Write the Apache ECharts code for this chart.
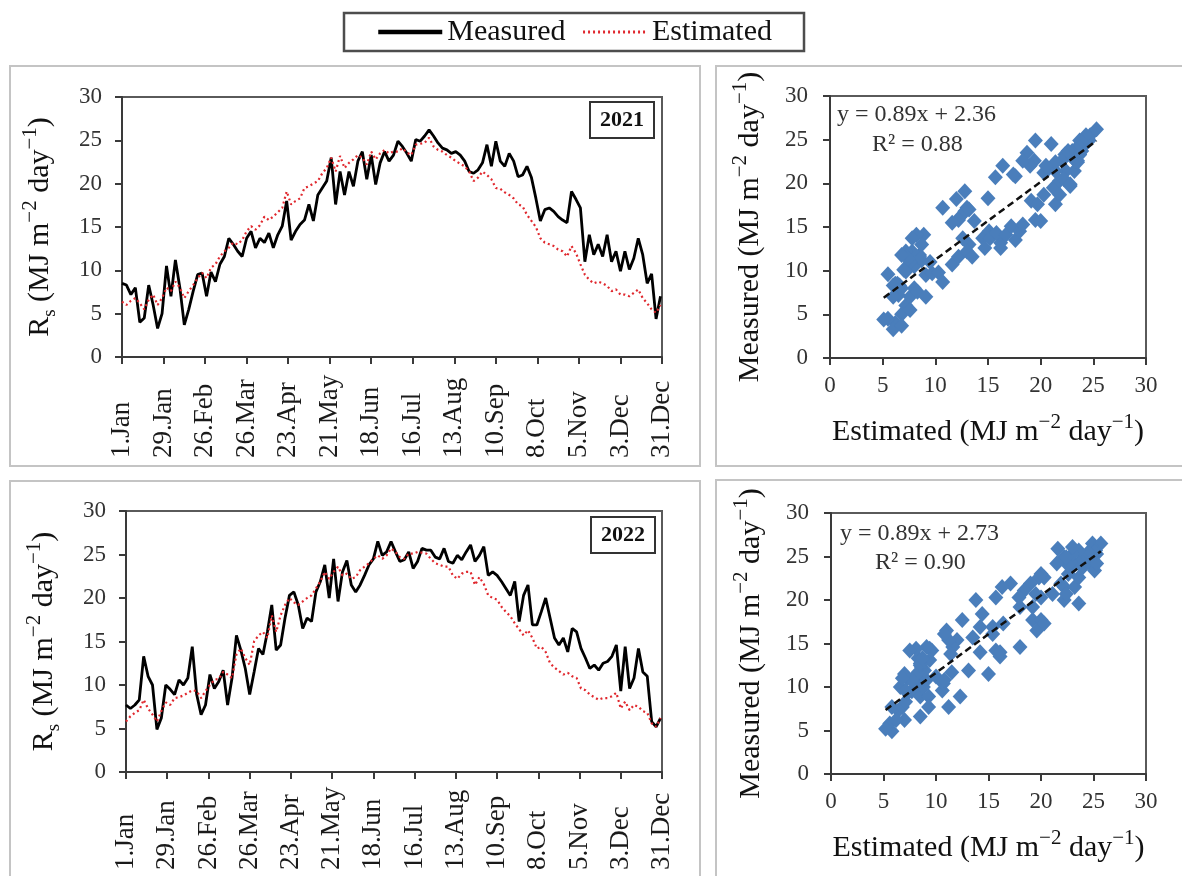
<!DOCTYPE html>
<html><head><meta charset="utf-8">
<script src="https://cdn.jsdelivr.net/npm/echarts@6/dist/echarts.min.js"></script>
<style>html,body{margin:0;padding:0;background:#fff}#c{width:1182px;height:876px}</style>
</head><body><div id="c"></div><script>
// ---------------- DATA ----------------
const TICK_LABELS = ['1.Jan','29.Jan','26.Feb','26.Mar','23.Apr','21.May','18.Jun','16.Jul','13.Aug','10.Sep','8.Oct','5.Nov','3.Dec','31.Dec'];
const DAY_STEP = 3; // one reading every 3 days, day 0 = 1 Jan
const MEASURED_2021 = [
 8.5, 8.3, 7.2, 8.0, 4.0, 4.5, 8.3, 6.0, 3.3, 5.0,
 10.5, 7.0, 11.2, 8.0, 3.7, 5.5, 7.6, 9.5, 9.7, 7.0,
 9.8, 8.7, 10.7, 11.6, 13.7, 13.0, 12.2, 11.6, 13.7, 14.5,
 12.6, 13.7, 13.2, 14.3, 12.6, 14.1, 15.1, 18.0, 13.5, 14.5,
 15.3, 15.8, 17.6, 15.7, 18.7, 19.5, 20.3, 23.0, 17.6, 21.4,
 18.7, 21.4, 19.7, 22.6, 23.7, 20.5, 23.3, 19.9, 22.4, 23.7,
 22.6, 23.3, 24.9, 24.3, 23.5, 22.6, 25.1, 24.9, 25.5, 26.2,
 25.5, 24.7, 24.1, 23.9, 23.5, 23.7, 23.3, 22.6, 21.4, 21.2,
 21.6, 22.4, 24.5, 22.0, 24.9, 22.6, 22.0, 23.5, 22.6, 20.8,
 21.0, 22.0, 20.7, 18.3, 15.7, 17.0, 17.2, 16.8, 16.2, 15.8,
 15.5, 19.1, 18.2, 17.2, 11.0, 14.1, 11.8, 13.0, 11.6, 14.1,
 11.0, 12.2, 9.9, 12.2, 10.1, 11.4, 13.7, 11.8, 8.5, 9.6,
 4.4, 7.0];
const ESTIMATED_2021 = [
 6.4, 6.0, 6.5, 6.8, 6.2, 5.5, 6.6, 7.2, 6.0, 6.8,
 8.0, 7.6, 8.7, 8.0, 6.8, 7.6, 8.3, 9.1, 9.7, 9.1,
 10.3, 10.7, 11.6, 12.2, 12.6, 13.2, 13.0, 13.5, 14.5, 15.1,
 14.7, 15.2, 16.2, 15.8, 16.2, 16.7, 17.2, 19.1, 17.6, 18.0,
 18.3, 19.5, 19.7, 20.0, 20.3, 21.2, 21.8, 23.0, 21.4, 23.2,
 21.8, 22.4, 22.8, 23.3, 23.0, 22.2, 23.7, 22.8, 23.5, 23.9,
 23.5, 23.7, 23.7, 24.1, 23.6, 23.3, 24.5, 24.6, 24.7, 25.3,
 24.3, 23.9, 23.7, 23.3, 23.0, 22.6, 22.3, 22.0, 21.4, 20.3,
 20.7, 21.4, 21.0, 20.5, 19.5, 19.4, 19.0, 18.7, 18.3, 17.6,
 17.4, 16.4, 15.7, 15.0, 13.7, 13.2, 13.0, 12.8, 12.4, 12.2,
 11.6, 12.8, 12.0, 10.7, 9.5, 8.9, 8.5, 8.7, 8.5, 8.2,
 7.6, 7.8, 7.2, 7.2, 7.0, 7.4, 7.8, 6.8, 6.2, 5.5,
 5.1, 6.0];
const MEASURED_2022 = [
 7.7, 7.3, 7.7, 8.3, 13.3, 11.0, 10.0, 4.9, 6.2, 10.0,
 9.5, 8.9, 10.6, 10.0, 10.8, 14.4, 8.9, 6.6, 7.7, 11.2,
 9.6, 10.4, 11.7, 7.7, 10.8, 15.7, 14.0, 11.9, 8.9, 11.5,
 14.2, 13.5, 16.1, 19.2, 14.0, 14.6, 17.7, 20.3, 20.7, 19.2,
 16.5, 17.7, 17.3, 20.7, 21.9, 23.8, 20.0, 24.5, 19.6, 23.0,
 24.3, 21.5, 20.7, 21.5, 22.6, 23.8, 24.5, 26.5, 24.9, 25.3,
 26.5, 25.3, 24.2, 24.4, 25.3, 23.4, 24.2, 25.7, 25.5, 25.5,
 24.7, 24.5, 25.7, 24.2, 24.0, 24.9, 24.4, 25.3, 26.1, 24.2,
 24.9, 25.9, 22.6, 23.0, 22.6, 21.9, 21.1, 20.3, 21.9, 17.3,
 20.3, 21.5, 16.9, 16.9, 18.4, 20.0, 17.7, 15.4, 14.6, 15.4,
 13.8, 16.5, 16.1, 14.2, 13.1, 11.9, 12.3, 11.7, 12.5, 12.7,
 13.3, 14.6, 9.3, 14.4, 9.6, 10.8, 14.2, 11.5, 11.0, 5.8,
 5.2, 6.2];
const ESTIMATED_2022 = [
 5.8, 6.4, 6.8, 7.1, 8.3, 7.3, 6.6, 5.8, 7.0, 8.0,
 7.7, 8.5, 8.6, 8.8, 9.1, 9.4, 9.3, 8.5, 9.3, 10.0,
 10.6, 10.7, 11.5, 11.2, 10.8, 13.5, 14.2, 13.1, 12.3, 15.0,
 15.7, 16.1, 15.4, 18.0, 16.1, 18.0, 19.2, 20.0, 19.5, 19.2,
 19.6, 20.0, 20.3, 21.1, 21.9, 23.0, 22.2, 23.0, 23.6, 22.6,
 22.8, 22.2, 22.4, 23.2, 23.6, 24.0, 24.5, 24.9, 24.5, 24.9,
 25.7, 25.3, 24.7, 24.5, 25.1, 25.1, 25.3, 25.2, 25.1, 24.5,
 24.0, 23.8, 23.6, 23.6, 22.6, 22.2, 22.8, 23.0, 23.0, 21.5,
 22.4, 21.6, 20.3, 20.0, 19.8, 19.0, 18.4, 17.9, 17.1, 16.4,
 15.7, 16.3, 15.4, 14.2, 14.4, 13.8, 12.5, 12.0, 11.6, 11.2,
 11.4, 11.0, 10.8, 9.6, 9.4, 8.9, 8.6, 8.3, 8.5, 8.5,
 8.7, 9.1, 7.3, 8.1, 7.1, 7.7, 7.5, 7.0, 6.8, 5.6,
 5.2, 6.2];
const FIT_2021 = [0.89, 2.36, '0.88']; // slope, intercept, R²
const FIT_2022 = [0.89, 2.73, '0.90'];
const YEARS = ['2021', '2022'];

// ---------------- CHART ----------------
const FONT = "'Liberation Serif','Times New Roman',serif";
const chart = echarts.init(document.getElementById('c'), null, {renderer: 'canvas'});

const toSeries = arr => arr.map((v, i) => [i * DAY_STEP, v]);
const pairs = (est, mea) => est.map((e, i) => [e, mea[i]]);
const fitLine = (est, fit) => {
  const lo = Math.min(...est), hi = Math.max(...est);
  return [[lo, fit[0] * lo + fit[1]], [hi, fit[0] * hi + fit[1]]];
};

const richUnits = {
  n: {fontFamily: FONT, fontSize: 30, color: '#111', lineHeight: 40},
  s: {fontFamily: FONT, fontSize: 19, color: '#111', lineHeight: 19, verticalAlign: 'bottom'},
  p: {fontFamily: FONT, fontSize: 21, color: '#111', lineHeight: 21, verticalAlign: 'top'}
};
const unitTail = '{n| (MJ m}{p|−2}{n| day}{p|−1}{n|)}';

const axisLineStyle = {show: true, lineStyle: {color: '#3a3a3a', width: 2}};
const tickStyle = {show: true, inside: false, length: 7, lineStyle: {color: '#3a3a3a', width: 2}};

function timeX(gridIndex, margin) {
  return {
    type: 'value', gridIndex, min: 0, max: 364, interval: 28,
    axisLine: axisLineStyle, axisTick: tickStyle, splitLine: {show: false},
    axisLabel: {
      rotate: 90, align: 'left', verticalAlign: 'middle', margin,
      fontFamily: FONT, fontSize: 27, color: '#1a1a1a',
      formatter: v => TICK_LABELS[Math.round(v / 28)]
    }
  };
}
function timeY(gridIndex) {
  return {
    type: 'value', gridIndex, min: 0, max: 30, interval: 5,
    axisLine: axisLineStyle, axisTick: tickStyle, splitLine: {show: false},
    axisLabel: {fontFamily: FONT, fontSize: 23, color: '#333', margin: 20},
    name: '{n|R}{s|s}' + unitTail, nameLocation: 'middle', nameRotate: 90, nameGap: 62,
    nameTextStyle: {rich: richUnits}
  };
}
function scX(gridIndex) {
  return {
    type: 'value', gridIndex, min: 0, max: 30, interval: 5,
    axisLine: axisLineStyle, axisTick: tickStyle, splitLine: {show: false},
    axisLabel: {fontFamily: FONT, fontSize: 23, color: '#333', margin: 16},
    name: '{n|Estimated}' + unitTail, nameLocation: 'middle', nameGap: 54,
    nameTextStyle: {rich: richUnits}
  };
}
function scY(gridIndex) {
  return {
    type: 'value', gridIndex, min: 0, max: 30, interval: 5,
    axisLine: axisLineStyle, axisTick: tickStyle, splitLine: {show: false},
    axisLabel: {fontFamily: FONT, fontSize: 23, color: '#333', margin: 22},
    name: '{n|Measured}' + unitTail, nameLocation: 'middle', nameRotate: 90, nameGap: 60,
    nameTextStyle: {rich: richUnits}
  };
}

const gridBox = {show: true, borderColor: '#5a5a5a', borderWidth: 2, containLabel: false};
const BLUE = '#4a7ebb';
const RED = '#e0282e';

function measuredSeries(data, idx) {
  return {name: 'Measured', type: 'line', xAxisIndex: idx, yAxisIndex: idx, data: toSeries(data),
    symbol: 'none', smooth: false, z: 3, lineStyle: {color: '#000', width: 2.8}, itemStyle: {color: '#000'}, animation: false};
}
function estimatedSeries(data, idx) {
  return {name: 'Estimated', type: 'line', xAxisIndex: idx, yAxisIndex: idx, data: toSeries(data),
    symbol: 'none', z: 4, lineStyle: {color: RED, width: 2.2, type: [2, 3]}, itemStyle: {color: RED}, animation: false};
}
function scatterSeries(est, mea, idx) {
  return {name: 'pts' + idx, type: 'scatter', xAxisIndex: idx, yAxisIndex: idx, data: pairs(est, mea),
    symbol: 'diamond', symbolSize: [15, 16], itemStyle: {color: BLUE, opacity: 1}, z: 2, animation: false};
}
function fitSeries(est, fit, idx) {
  return {name: 'fit' + idx, type: 'line', xAxisIndex: idx, yAxisIndex: idx, data: fitLine(est, fit),
    symbol: 'none', z: 5, lineStyle: {color: '#111', width: 2.5, type: [7, 4]}, animation: false};
}

const eqText = fit => 'y = ' + fit[0] + 'x + ' + fit[1];
const r2Text = fit => 'R² = ' + fit[2];
const frame = (x, y, w, h) => ({type: 'rect', shape: {x, y, width: w, height: h},
  style: {fill: 'none', stroke: '#c4c4c4', lineWidth: 2}, z: 0, silent: true});
const eq = (x, y, text) => ({type: 'text', x, y, style: {text, fontFamily: FONT, fontSize: 24, fill: '#333', verticalAlign: 'middle'}, z: 10});

const option = {
  animation: false,
  backgroundColor: '#fff',
  legend: {
    data: [
      {name: 'Measured', itemStyle: {opacity: 0}, lineStyle: {width: 4.5}},
      {name: 'Estimated', itemStyle: {opacity: 0}, lineStyle: {width: 3, type: [2, 3]}}
    ],
    left: 344, top: 13,
    padding: [4, 32, 4, 32], itemGap: 16, itemWidth: 64, itemHeight: 14,
    borderColor: '#4d4d4d', borderWidth: 2.5, borderRadius: 0,
    textStyle: {fontFamily: FONT, fontSize: 30, color: '#111'}
  },
  title: [
    {text: YEARS[0], left: 590, top: 102, padding: [7, 10, 7, 10], borderColor: '#333', borderWidth: 2,
      textStyle: {fontFamily: FONT, fontSize: 22, fontWeight: 'bold', color: '#111'}},
    {text: YEARS[1], left: 591, top: 517, padding: [7, 10, 7, 10], borderColor: '#333', borderWidth: 2,
      textStyle: {fontFamily: FONT, fontSize: 22, fontWeight: 'bold', color: '#111'}}
  ],
  grid: [
    Object.assign({left: 122, top: 97, width: 540, height: 260}, gridBox),
    Object.assign({left: 830, top: 96, width: 316, height: 262}, gridBox),
    Object.assign({left: 126, top: 511, width: 536, height: 261}, gridBox),
    Object.assign({left: 831, top: 513, width: 315, height: 261}, gridBox)
  ],
  xAxis: [timeX(0, 101), scX(1), timeX(2, 98), scX(3)],
  yAxis: [timeY(0), scY(1), timeY(2), scY(3)],
  series: [
    measuredSeries(MEASURED_2021, 0), estimatedSeries(ESTIMATED_2021, 0),
    scatterSeries(ESTIMATED_2021, MEASURED_2021, 1), fitSeries(ESTIMATED_2021, FIT_2021, 1),
    measuredSeries(MEASURED_2022, 2), estimatedSeries(ESTIMATED_2022, 2),
    scatterSeries(ESTIMATED_2022, MEASURED_2022, 3), fitSeries(ESTIMATED_2022, FIT_2022, 3)
  ],
  graphic: [
    frame(10, 66, 690, 400), frame(716, 66, 480, 400),
    frame(10, 481, 690, 420), frame(716, 480, 480, 420),
    eq(837, 115, eqText(FIT_2021)), eq(872, 145, r2Text(FIT_2021)),
    eq(840, 534, eqText(FIT_2022)), eq(875, 563, r2Text(FIT_2022))
  ]
};
chart.setOption(option);
</script></body></html>
